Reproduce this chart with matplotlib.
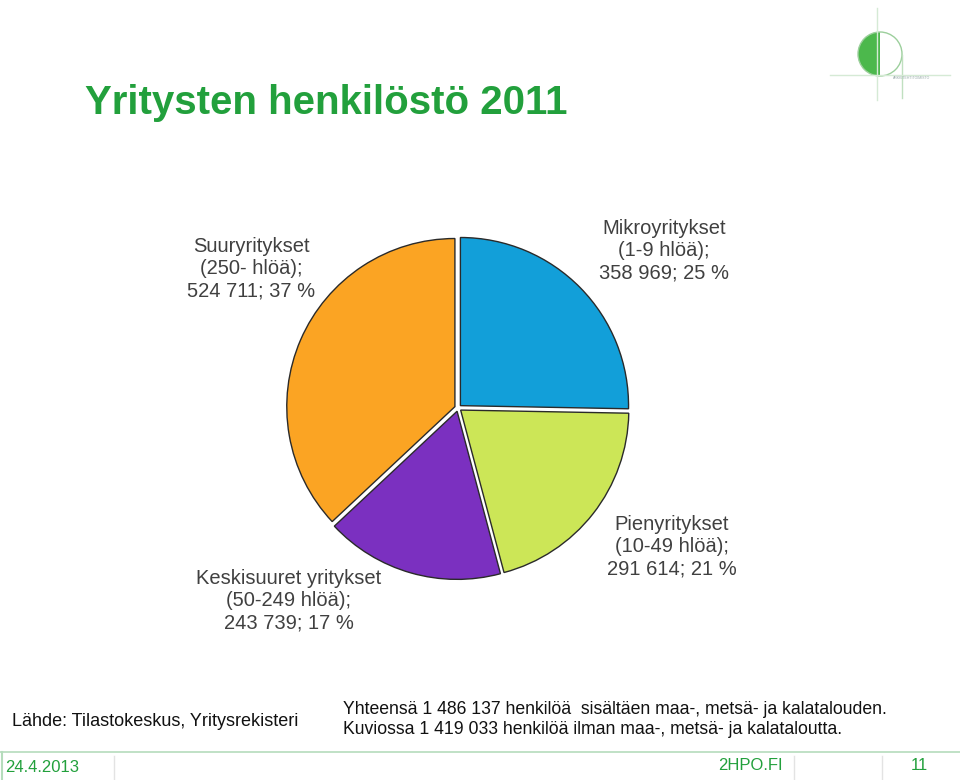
import matplotlib
matplotlib.use("Agg")
import matplotlib.pyplot as plt
from matplotlib.patches import Circle, Wedge

plt.rcParams['font.family'] = ['Liberation Sans', 'DejaVu Sans']

# data
categories = ["Mikroyritykset\n(1-9 hlöä);", "Pienyritykset\n(10-49 hlöä);",
              "Keskisuuret yritykset\n(50-249 hlöä);", "Suuryritykset\n(250- hlöä);"]
values = [358969, 291614, 243739, 524711]
value_text = ["358 969", "291 614", "243 739", "524 711"]
percents = [25, 21, 17, 37]
colors = ["#129fd9", "#cce657", "#7b30c0", "#fba423"]

# label anchors (figure pixels, centre of text block)
label_pos = [(664, 251), (672, 547), (289, 601), (251, 269)]

GREEN = "#22a03c"

fig = plt.figure(figsize=(9.6, 7.8), dpi=100)

# overlay in pixel coordinates for title, labels and slide decorations
bg = fig.add_axes([0, 0, 1, 1])
bg.set_xlim(0, 960)
bg.set_ylim(780, 0)
bg.axis("off")

bg.text(85, 103, "Yritysten henkilöstö 2011", color=GREEN, fontsize=29,
        fontweight="bold", ha="left", va="center")

# pie
cx, cy, half = 458, 408, 190
ax = fig.add_axes([(cx - half) / 960, 1 - (cy + half) / 780, 2 * half / 960, 2 * half / 780])
ax.pie(values, colors=colors, startangle=90, counterclock=False,
       explode=[0.02] * len(values), radius=1,
       wedgeprops=dict(edgecolor="#2a2a2a", linewidth=1.0))
ax.set_xlim(-1.13, 1.13)
ax.set_ylim(-1.13, 1.13)
ax.set_aspect("auto")
ax.axis("off")

for cat, vt, pc, (x, y) in zip(categories, value_text, percents, label_pos):
    bg.text(x, y, f"{cat}\n{vt}; {pc} %", ha="center", va="center",
            fontsize=14.5, color="#404040", linespacing=1.22)

# notes
bg.text(12, 722, "Lähde: Tilastokeskus, Yritysrekisteri", fontsize=13,
        color="#111111", ha="left", va="center")
bg.text(343, 710, "Yhteensä 1 486 137 henkilöä  sisältäen maa-, metsä- ja kalatalouden.",
        fontsize=12.7, color="#111111", ha="left", va="center")
bg.text(343, 730, "Kuviossa 1 419 033 henkilöä ilman maa-, metsä- ja kalataloutta.",
        fontsize=12.7, color="#111111", ha="left", va="center")

# footer
line_col = "#b5dcbc"
bg.plot([0, 960], [752, 752], color=line_col, lw=1.2)
for xv in [114, 794, 882]:
    bg.plot([xv, xv], [756, 780], color="#e3e3e3", lw=1)
bg.plot([2, 2], [752, 780], color=line_col, lw=1.5)
bg.text(5, 767, "24.4.2013", color=GREEN, fontsize=12, ha="left", va="center")
bg.text(750, 765, "2HPO.FI", color=GREEN, fontsize=12, ha="center", va="center")
bg.text(919, 765, "11", color=GREEN, fontsize=12, ha="center", va="center")

# logo
bg.add_patch(Wedge((880, 54), 22, 90, 270, facecolor="#4cb84c", edgecolor="none"))
bg.add_patch(Circle((880, 54), 22, facecolor="none", edgecolor="#9ccf9c", lw=1))
bg.plot([877, 877], [8, 100], color="#d5ead5", lw=1)
bg.plot([902, 902], [55, 98], color="#c0e0c0", lw=1)
bg.plot([830, 950], [75, 75], color="#d5ead5", lw=1)
bg.text(912, 78, "ARKKITEHTITOIMISTO", fontsize=2.5, color="#9aa", ha="center", va="center")

fig.savefig("out.png", dpi=100)
